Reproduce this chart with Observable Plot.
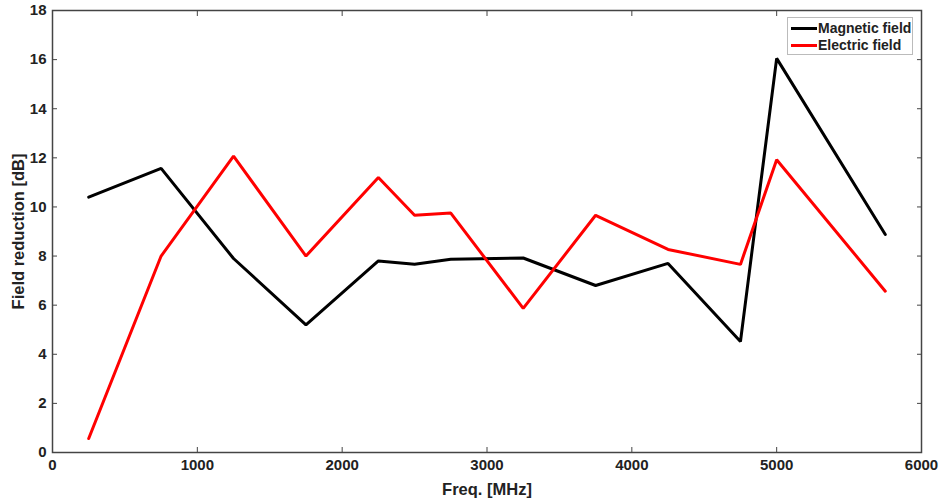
<!DOCTYPE html>
<html>
<head>
<meta charset="utf-8">
<script src="https://cdn.jsdelivr.net/npm/d3@7"></script>
<script src="https://cdn.jsdelivr.net/npm/@observablehq/plot@0.6"></script>
<style>
  html, body { margin: 0; padding: 0; background: #fff; }
  #wrap { position: relative; width: 940px; height: 498px; font-family: "Liberation Sans", Arial, sans-serif; }
  #legend { position: absolute; left: 787px; top: 17px; width: 126px; height: 38px; border: 1px solid #bbb; background: #fff; font-weight: bold; font-size: 14px; color: #222; box-sizing: border-box; }
  .item { position: absolute; left: 3px; height: 16px; display: flex; align-items: center; }
  .sw { width: 26px; height: 3px; margin-right: 1px; }
</style>
</head>
<body>
<div id="wrap"></div>
<script>
const freqs = [250, 750, 1250, 1750, 2250, 2500, 2750, 3250, 3750, 4250, 4750, 5000, 5750];
const magnetic = [10.4, 11.57, 7.9, 5.2, 7.8, 7.67, 7.87, 7.92, 6.8, 7.7, 4.52, 16.05, 8.88];
const electric = [0.57, 8.0, 12.07, 8.0, 11.2, 9.66, 9.75, 5.87, 9.66, 8.27, 7.66, 11.92, 6.57];
const xTicks = [0, 1000, 2000, 3000, 4000, 5000, 6000];
const yTicks = [0, 2, 4, 6, 8, 10, 12, 14, 16, 18];
const seriesNames = ["Magnetic field", "Electric field"];
const seriesColors = ["#000000", "#ff0000"];

const rows = [];
freqs.forEach((f, i) => {
  rows.push({f, v: magnetic[i], s: seriesNames[0]});
  rows.push({f, v: electric[i], s: seriesNames[1]});
});

const axisColor = "#444";
const tickStyle = {fontSize: 15, fontWeight: "bold", fill: "#222"};
const labelStyle = {fontSize: 16.5, fontWeight: "bold", fill: "#222"};

const chart = Plot.plot({
  width: 940,
  height: 498,
  marginLeft: 52,
  marginRight: 19,
  marginTop: 10,
  marginBottom: 46,
  style: {fontFamily: "Liberation Sans, Arial, sans-serif", background: "#fff", overflow: "visible"},
  x: {domain: [0, 6000]},
  y: {domain: [0, 18]},
  color: {domain: seriesNames, range: seriesColors},
  marks: [
    Plot.line(rows, {x: "f", y: "v", z: "s", stroke: "s", strokeWidth: 3, strokeLinejoin: "miter"}),
    Plot.frame({stroke: axisColor, strokeWidth: 1.5}),
    Plot.axisX(xTicks, {anchor: "bottom", tickSize: -5, text: null, label: null, stroke: axisColor}),
    Plot.axisX(xTicks, {anchor: "top", tickSize: -5, text: null, label: null, stroke: axisColor}),
    Plot.axisY(yTicks, {anchor: "left", tickSize: -5, text: null, label: null, stroke: axisColor}),
    Plot.axisY(yTicks, {anchor: "right", tickSize: -5, text: null, label: null, stroke: axisColor}),
    Plot.axisX(xTicks, {anchor: "bottom", tickSize: 0, tickPadding: 7, tickFormat: d => String(d), ...tickStyle, label: null}),
    Plot.axisY(yTicks, {anchor: "left", tickSize: 0, tickPadding: 6, tickFormat: d => String(d), ...tickStyle, label: null}),
    Plot.axisX([], {anchor: "bottom", tickSize: 0, ...labelStyle,
      label: "Freq. [MHz]", labelAnchor: "center", labelArrow: "none", labelOffset: 42}),
    Plot.axisY([], {anchor: "left", tickSize: 0, ...labelStyle,
      label: "Field reduction [dB]", labelAnchor: "center", labelArrow: "none", labelOffset: 40})
  ]
});

const wrap = document.getElementById("wrap");
wrap.appendChild(chart);

const legend = document.createElement("div");
legend.id = "legend";
seriesNames.forEach((name, i) => {
  const item = document.createElement("div");
  item.className = "item";
  item.style.top = (2 + i * 17) + "px";
  const sw = document.createElement("span");
  sw.className = "sw";
  sw.style.background = seriesColors[i];
  const t = document.createElement("span");
  t.textContent = name;
  item.appendChild(sw);
  item.appendChild(t);
  legend.appendChild(item);
});
wrap.appendChild(legend);
</script>
</body>
</html>
